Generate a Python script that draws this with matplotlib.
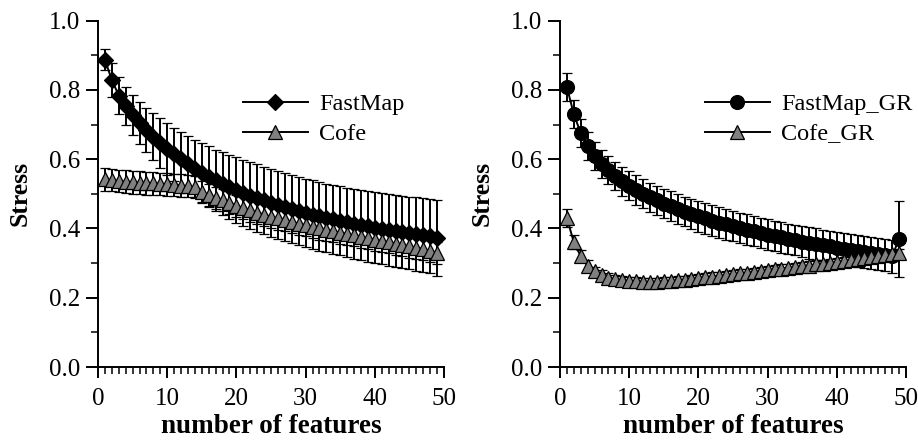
import matplotlib
matplotlib.use("Agg")
import matplotlib.pyplot as plt
from matplotlib.ticker import MultipleLocator

plt.rcParams['font.family'] = ['Liberation Serif', 'DejaVu Serif']

n_features = list(range(1, 50))

fastmap = [0.887, 0.829, 0.784, 0.754, 0.728, 0.705, 0.685, 0.665, 0.647, 0.630,
           0.614, 0.600, 0.586, 0.573, 0.561, 0.550, 0.539, 0.529, 0.520, 0.511,
           0.503, 0.495, 0.488, 0.481, 0.474, 0.468, 0.462, 0.456, 0.450, 0.445,
           0.440, 0.435, 0.430, 0.426, 0.422, 0.418, 0.414, 0.410, 0.406, 0.402,
           0.399, 0.396, 0.393, 0.390, 0.387, 0.384, 0.381, 0.378, 0.372]
fastmap_err = [0.030, 0.050, 0.054, 0.054, 0.058, 0.061, 0.064, 0.068, 0.072, 0.075,
               0.077, 0.079, 0.081, 0.083, 0.085, 0.087, 0.089, 0.091, 0.093, 0.094,
               0.095, 0.096, 0.097, 0.097, 0.098, 0.098, 0.098, 0.098, 0.098, 0.098,
               0.099, 0.099, 0.099, 0.100, 0.100, 0.100, 0.101, 0.101, 0.102, 0.102,
               0.103, 0.103, 0.104, 0.105, 0.105, 0.106, 0.107, 0.108, 0.110]

cofe = [0.542, 0.540, 0.537, 0.535, 0.533, 0.532, 0.531, 0.530, 0.529, 0.527,
        0.526, 0.524, 0.522, 0.519, 0.505, 0.496, 0.489, 0.482, 0.475, 0.466,
        0.459, 0.452, 0.446, 0.440, 0.434, 0.429, 0.424, 0.419, 0.414, 0.409,
        0.405, 0.400, 0.396, 0.392, 0.388, 0.384, 0.380, 0.376, 0.372, 0.368,
        0.364, 0.360, 0.356, 0.352, 0.348, 0.344, 0.340, 0.335, 0.330]
cofe_err = [0.033, 0.033, 0.033, 0.033, 0.033, 0.033, 0.033, 0.032, 0.032, 0.032,
            0.032, 0.032, 0.032, 0.032, 0.032, 0.032, 0.032, 0.032, 0.032, 0.032,
            0.032, 0.032, 0.032, 0.032, 0.032, 0.032, 0.032, 0.032, 0.032, 0.032,
            0.032, 0.032, 0.032, 0.032, 0.032, 0.032, 0.032, 0.032, 0.032, 0.032,
            0.032, 0.032, 0.032, 0.032, 0.032, 0.032, 0.032, 0.032, 0.032]

fastmap_gr = [0.808, 0.730, 0.675, 0.638, 0.609, 0.587, 0.568, 0.551, 0.536, 0.523,
              0.511, 0.500, 0.490, 0.481, 0.472, 0.464, 0.456, 0.449, 0.442, 0.435,
              0.429, 0.423, 0.417, 0.412, 0.407, 0.402, 0.397, 0.392, 0.387, 0.382,
              0.378, 0.374, 0.370, 0.366, 0.362, 0.358, 0.355, 0.351, 0.348, 0.344,
              0.341, 0.338, 0.335, 0.332, 0.329, 0.326, 0.323, 0.320, 0.370]
fastmap_gr_err = [0.040, 0.040, 0.040, 0.040, 0.040, 0.040, 0.041, 0.041, 0.041, 0.042,
                  0.042, 0.042, 0.042, 0.043, 0.043, 0.043, 0.043, 0.043, 0.044, 0.044,
                  0.044, 0.044, 0.044, 0.044, 0.044, 0.044, 0.044, 0.044, 0.044, 0.044,
                  0.044, 0.044, 0.044, 0.044, 0.044, 0.045, 0.045, 0.045, 0.045, 0.045,
                  0.045, 0.046, 0.046, 0.046, 0.046, 0.047, 0.047, 0.048, 0.110]

cofe_gr = [0.430, 0.360, 0.320, 0.292, 0.276, 0.266, 0.258, 0.253, 0.250, 0.248,
           0.247, 0.246, 0.246, 0.246, 0.247, 0.248, 0.250, 0.252, 0.254, 0.257,
           0.259, 0.261, 0.263, 0.265, 0.268, 0.270, 0.272, 0.274, 0.277, 0.280,
           0.282, 0.284, 0.286, 0.289, 0.291, 0.293, 0.296, 0.298, 0.301, 0.303,
           0.306, 0.309, 0.311, 0.314, 0.317, 0.320, 0.322, 0.325, 0.328]
cofe_gr_err = [0.025, 0.020, 0.018, 0.016, 0.014, 0.013, 0.012, 0.012, 0.012, 0.012,
               0.012, 0.012, 0.012, 0.012, 0.012, 0.012, 0.012, 0.012, 0.012, 0.012,
               0.012, 0.012, 0.012, 0.012, 0.012, 0.012, 0.012, 0.012, 0.012, 0.012,
               0.012, 0.012, 0.012, 0.012, 0.012, 0.012, 0.012, 0.012, 0.012, 0.012,
               0.012, 0.012, 0.012, 0.012, 0.012, 0.012, 0.012, 0.012, 0.012]

x_ticks = [0, 10, 20, 30, 40, 50]
y_ticks = [0.0, 0.2, 0.4, 0.6, 0.8, 1.0]
x_label = "number of features"
y_label = "Stress"

fig = plt.figure(figsize=(9.18, 4.41), dpi=100)
ax1 = fig.add_axes([98/918, 1-367/441, 346/918, 346.3/441])
ax2 = fig.add_axes([560/918, 1-367/441, 346/918, 346.3/441])

GRAY = '#808080'
common = dict(color='black', ecolor='black', elinewidth=1.4, capsize=3.5, capthick=1.4,
              linewidth=1.4, markeredgecolor='black', markeredgewidth=0.9, clip_on=False)

def style(ax):
    ax.set_xlim(0, 50)
    ax.set_ylim(0, 1.0)
    for s in ['top', 'right']:
        ax.spines[s].set_visible(False)
    for s in ['left', 'bottom']:
        ax.spines[s].set_linewidth(1.4)
    ax.set_xticks(x_ticks)
    ax.set_yticks(y_ticks)
    ax.set_yticklabels([f"{v:.1f}" for v in y_ticks])
    ax.xaxis.set_minor_locator(MultipleLocator(1))
    ax.yaxis.set_minor_locator(MultipleLocator(0.1))
    ax.tick_params(which='major', direction='out', width=1.4, labelsize=18)
    ax.tick_params(axis='y', which='major', length=9, pad=4)
    ax.tick_params(axis='x', which='major', length=8, pad=7)
    ax.tick_params(which='minor', direction='out', length=5, width=1.1)
    ax.set_xlabel(x_label, fontsize=19.5, fontweight='bold', labelpad=3)
    ax.set_ylabel(y_label, fontsize=18.5, fontweight='bold', labelpad=12)

ax1.errorbar(n_features, fastmap, yerr=fastmap_err, marker='D', markersize=8,
             markerfacecolor='black', label='FastMap', zorder=3, **common)
ax1.errorbar(n_features, cofe, yerr=cofe_err, marker='^', markersize=9.5,
             markerfacecolor=GRAY, label='Cofe', zorder=4, **common)
style(ax1)

ax2.errorbar(n_features, fastmap_gr, yerr=fastmap_gr_err, marker='o', markersize=10,
             markerfacecolor='black', label='FastMap_GR', zorder=3, **common)
ax2.errorbar(n_features, cofe_gr, yerr=cofe_gr_err, marker='^', markersize=9.5,
             markerfacecolor=GRAY, label='Cofe_GR', zorder=4, **common)
style(ax2)

for ax in (ax1, ax2):
    h, l = ax.get_legend_handles_labels()
    h = [hh[0] for hh in h]
    ax.legend(h, l, loc='upper left', bbox_to_anchor=(0.418, 0.79), frameon=False,
              fontsize=17.5, handlelength=2.7, handletextpad=0.45, labelspacing=0.33,
              borderpad=0, borderaxespad=0)

fig.savefig('out.png', dpi=100)
